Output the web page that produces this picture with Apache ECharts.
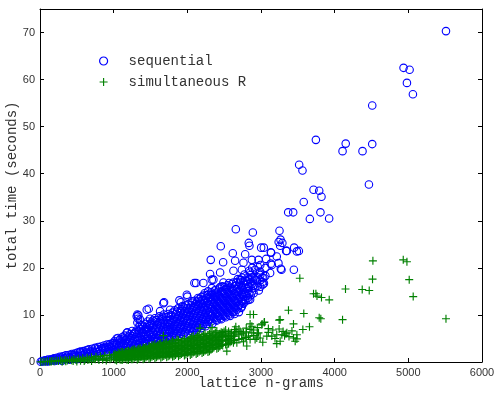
<!DOCTYPE html>
<html>
<head>
<meta charset="utf-8">
<script src="https://cdn.jsdelivr.net/npm/echarts@6/dist/echarts.min.js"></script>
<style>
html,body{margin:0;padding:0;background:#fff;}
#chart{width:496px;height:393px;}
</style>
</head>
<body>
<div id="chart"></div>
<script>
// ---------- data ----------
const xTicks = [0, 1000, 2000, 3000, 4000, 5000, 6000];
const yTicks = [0, 10, 20, 30, 40, 50, 60, 70];
const seriesNames = ['sequential', 'simultaneous R'];

// sequential: [lattice n-grams, total time (seconds)]
const sequential = [
[10,0.05],[30,0.2],[50,0.1],[70,0.35],[90,0.2],[110,0.5],[130,0.3],[150,0.6],[170,0.4],[190,0.8],
[210,0.5],[230,0.9],[250,0.6],[270,1.1],[290,0.7],[310,1.2],[330,0.8],[350,1.4],[370,0.9],[390,1.5],
[410,1.0],[430,1.7],[450,1.1],[470,1.8],[490,1.2],[510,2.0],[530,1.3],[550,2.2],[570,1.4],[590,2.3],
[610,1.6],[630,2.5],[650,1.7],[670,2.7],[690,1.8],[710,2.8],[730,2.0],[750,3.0],[770,2.1],[790,3.2],
[810,2.3],[830,3.3],[850,2.4],[870,3.5],[890,2.5],[910,3.7],[930,2.7],[950,3.8],[970,2.8],[990,4.0],
[100,0.1],[200,0.2],[300,0.3],[400,0.5],[500,0.6],[600,0.8],[700,1.0],[800,1.2],[900,1.4],[1000,1.6],
[540,2.1],[650,2.6],[880,2.9],[960,3.3],
[60,0.25],[120,0.2],[180,0.6],[240,0.4],[260,0.9],[320,0.6],[360,1.1],[420,0.8],[440,1.4],[480,1.5],
[520,1.0],[560,1.8],[620,2.0],[640,1.3],[680,2.2],[720,2.4],[740,1.6],[780,2.7],[820,1.8],[840,2.9],
[860,3.0],[900,3.2],[920,2.1],[940,3.3],[980,3.5],[1000,2.5],[1000,3.6],
[1010,2.0],[1010,3.2],[1010,4.4],[1040,2.4],[1040,3.8],[1040,5.0],[1060,5.1],[1060,1.9],[1060,3.0],
[1090,2.6],[1090,4.1],[1090,4.9],[1120,2.2],[1120,3.5],[1120,5.3],[1150,2.9],[1150,4.5],[1150,5.6],
[1178,6.2],[1186,6.3],[1190,2.4],[1190,3.9],[1190,5.0],[1220,3.0],[1220,4.6],[1220,5.9],
[1250,2.7],[1250,4.0],[1250,5.5],[1250,6.6],[1280,3.3],[1280,4.8],[1280,6.1],
[1313,9.7],[1313,3.0],[1313,5.3],[1322,10.1],[1322,8.4],[1331,9.2],[1335,9.9],
[1340,3.6],[1340,4.6],[1340,6.6],[1340,7.4],[1354,7.9],[1358,9.0],[1370,2.9],[1370,5.6],[1370,6.9],
[1400,3.4],[1400,4.5],[1400,6.2],[1400,7.5],[1430,4.0],[1430,5.3],[1430,7.0],[1430,8.1],
[1449,11.1],[1449,6.9],[1460,3.2],[1460,5.0],[1460,6.4],[1460,8.6],[1476,11.3],[1494,9.2],[1494,7.6],
[1500,3.8],[1500,5.7],[1500,8.0],[1530,4.4],[1530,6.3],[1530,7.3],[1530,8.8],
[1560,3.6],[1560,5.1],[1560,6.8],[1560,9.3],[1590,4.8],[1590,6.0],[1590,7.8],[1590,8.5],
[1620,4.1],[1620,5.6],[1620,7.1],[1620,9.7],[1630,10.8],[1650,4.6],[1650,6.4],[1650,8.2],[1650,9.1],
[1675,12.5],[1684,12.7],[1680,5.0],[1680,7.4],[1680,8.8],[1680,10.1],
[1710,4.4],[1710,6.0],[1710,7.0],[1710,9.5],[1740,5.4],[1740,6.9],[1740,8.3],[1740,10.2],[1766,11.1],
[1770,4.8],[1770,6.3],[1770,7.8],[1770,9.0],[1800,5.8],[1800,7.3],[1800,8.7],[1800,10.5],
[1830,5.2],[1830,6.6],[1830,8.0],[1830,9.6],[1830,11.0],[1860,6.1],[1860,7.5],[1860,9.2],[1860,10.7],
[1892,13.1],[1902,10.8],[1890,5.5],[1890,7.0],[1890,8.5],[1890,9.9],[1911,12.7],
[1920,6.4],[1920,7.9],[1920,9.4],[1920,11.2],[1950,5.8],[1950,7.4],[1950,8.8],[1950,10.3],[1950,11.6],
[1980,6.7],[1980,8.3],[1980,9.8],[1980,12.0],[1993,14.3],[2000,13.9],
[1025,2.6],[1025,3.9],[1075,2.2],[1075,3.5],[1075,4.6],[1105,3.0],[1105,4.4],[1135,2.5],[1135,3.9],[1135,5.0],
[1165,3.3],[1165,4.8],[1205,2.8],[1205,4.2],[1205,5.4],[1235,3.5],[1235,5.0],[1265,3.0],[1265,4.4],[1265,5.9],
[1295,3.8],[1295,5.2],[1295,6.4],[1325,3.3],[1325,4.7],[1325,6.0],[1355,4.1],[1355,5.2],[1355,7.0],
[1385,3.6],[1385,4.9],[1385,6.3],[1385,7.8],[1415,4.3],[1415,5.8],[1415,6.8],[1445,3.8],[1445,5.6],[1445,7.4],
[1475,4.6],[1475,6.0],[1475,7.9],[1515,4.1],[1515,5.3],[1515,6.8],[1515,8.4],[1545,4.9],[1545,6.0],[1545,7.8],
[1575,4.3],[1575,5.8],[1575,7.2],[1575,8.9],[1605,5.1],[1605,6.6],[1605,8.2],[1635,4.4],[1635,5.9],[1635,7.6],[1635,8.8],
[1665,5.3],[1665,6.9],[1665,8.4],[1665,9.6],[1695,4.7],[1695,6.5],[1695,8.0],[1725,5.5],[1725,7.4],[1725,8.9],
[1755,5.0],[1755,6.7],[1755,8.0],[1755,9.7],[1785,5.3],[1785,7.0],[1785,8.4],[1785,10.0],[1815,6.2],[1815,7.7],[1815,9.2],
[1845,5.6],[1845,7.0],[1845,8.6],[1845,10.2],[1875,6.5],[1875,8.1],[1875,9.6],[1875,11.4],[1905,6.0],[1905,7.4],[1905,8.9],[1905,10.4],
[1935,6.9],[1935,8.5],[1935,10.0],[1935,11.9],[1965,6.3],[1965,7.9],[1965,9.3],[1965,10.8],[1995,7.1],[1995,8.8],[1995,10.3],[1995,11.4],
[2010,6.0],[2010,7.6],[2010,9.1],[2010,10.6],[2010,12.2],[2040,7.0],[2040,8.5],[2040,10.0],[2040,11.5],
[2060,12.9],[2070,6.5],[2070,8.0],[2070,9.5],[2070,11.0],[2070,12.6],[2096,16.8],
[2100,7.3],[2100,8.8],[2100,10.4],[2100,11.9],[2100,13.0],[2119,16.8],
[2130,6.8],[2130,8.3],[2130,9.8],[2130,11.3],[2130,12.8],[2160,7.8],[2160,9.3],[2160,10.8],[2160,12.2],[2160,13.4],
[2173,12.9],[2190,7.2],[2190,8.7],[2190,10.2],[2190,11.7],[2190,13.8],[2218,16.8],
[2220,8.1],[2220,9.6],[2220,11.1],[2220,12.6],[2220,14.1],[2250,7.6],[2250,9.0],[2250,10.5],[2250,12.0],[2250,13.5],
[2286,14.3],[2280,8.5],[2280,10.0],[2280,11.4],[2280,12.9],[2280,15.0],[2309,18.7],[2318,21.7],
[2310,9.0],[2310,10.6],[2310,12.1],[2310,13.6],[2332,17.5],[2332,15.7],
[2340,8.2],[2340,9.8],[2340,11.3],[2340,12.8],[2340,14.4],[2354,17.5],[2377,13.9],
[2370,9.3],[2370,10.9],[2370,12.4],[2370,15.2],[2400,8.8],[2400,10.3],[2400,11.8],[2400,13.3],[2400,14.7],
[2430,9.7],[2430,11.2],[2430,12.7],[2430,14.2],[2430,15.6],[2445,19.0],[2454,24.6],
[2460,9.1],[2460,10.6],[2460,12.1],[2460,13.6],[2460,15.0],[2486,21.2],
[2490,16.9],[2490,10.0],[2490,11.6],[2490,13.1],[2490,14.6],
[2520,9.5],[2520,11.0],[2520,12.5],[2520,14.0],[2520,15.5],[2550,10.4],[2550,11.9],[2550,13.4],[2550,14.9],[2550,16.3],
[2580,9.8],[2580,11.3],[2580,12.8],[2580,14.3],[2580,15.8],[2610,10.7],[2610,12.2],[2610,13.7],[2610,15.2],[2610,16.6],
[2617,23.1],[2626,19.4],[2640,10.2],[2640,11.7],[2640,13.2],[2640,14.6],[2640,16.1],[2649,21.5],[2658,28.2],
[2670,11.1],[2670,12.6],[2670,14.1],[2670,15.5],[2670,17.0],[2700,10.6],[2700,12.0],[2700,13.5],[2700,15.0],[2700,16.4],
[2025,6.6],[2025,8.2],[2025,9.7],[2025,11.1],[2055,7.3],[2055,8.9],[2055,10.5],[2055,12.1],[2085,6.9],[2085,8.4],[2085,10.0],[2085,11.6],
[2115,7.7],[2115,9.4],[2115,10.9],[2115,12.3],[2145,7.3],[2145,8.8],[2145,10.3],[2145,11.9],[2145,13.6],
[2175,8.1],[2175,9.8],[2175,11.3],[2175,12.6],[2205,7.7],[2205,9.2],[2205,10.7],[2205,12.3],[2205,13.2],
[2235,8.6],[2235,10.1],[2235,11.6],[2235,13.0],[2235,14.6],[2265,8.1],[2265,9.6],[2265,11.0],[2265,12.6],[2265,14.2],
[2295,9.1],[2295,10.6],[2295,12.2],[2295,13.8],[2325,8.6],[2325,10.1],[2325,11.6],[2325,13.2],[2325,14.8],
[2355,9.5],[2355,11.1],[2355,12.6],[2355,14.1],[2385,9.0],[2385,10.6],[2385,12.0],[2385,13.7],[2385,15.3],
[2415,9.8],[2415,11.4],[2415,12.9],[2415,14.4],[2445,9.3],[2445,10.9],[2445,12.4],[2445,13.9],[2445,15.9],
[2475,10.2],[2475,11.8],[2475,13.3],[2475,14.9],[2475,16.1],[2505,9.8],[2505,11.3],[2505,12.9],[2505,14.4],[2505,15.9],
[2535,10.6],[2535,12.2],[2535,13.7],[2535,15.3],[2565,10.1],[2565,11.6],[2565,13.1],[2565,14.6],[2565,16.8],
[2595,11.0],[2595,12.5],[2595,14.0],[2595,15.6],[2625,10.6],[2625,12.0],[2625,13.6],[2625,15.1],[2625,16.9],
[2655,11.4],[2655,12.9],[2655,14.4],[2655,16.2],[2685,11.8],[2685,13.3],[2685,14.9],[2685,17.6],
[2715,12.2],[2715,13.8],[2715,15.4],[2715,16.9],[2745,12.8],[2745,14.3],[2745,15.8],[2745,17.9],
[2775,13.2],[2775,14.8],[2775,16.4],[2775,18.6],[2805,14.0],[2805,15.5],[2805,17.1],
[2840,14.5],[2840,16.1],[2840,17.6],[2840,19.4],[2880,15.0],[2880,16.6],[2880,18.0],[2880,20.0],
[2920,15.8],[2920,17.5],[2920,19.6],[2955,16.2],[2955,18.0],[2955,20.3],[2990,16.0],[2990,18.5],[2990,20.6],
[3060,18.3],[3060,20.0],
[2717,17.5],[2730,11.5],[2730,13.0],[2730,14.5],[2730,16.0],[2730,17.4],[2740,19.6],[2740,11.8],
[2762,17.1],[2762,21.1],[2760,12.4],[2760,13.9],[2760,15.3],[2785,22.9],
[2790,12.9],[2790,14.4],[2790,15.8],[2790,17.3],[2820,13.6],[2820,15.1],[2820,16.6],[2820,18.0],
[2830,13.2],[2830,15.9],[2834,25.3],[2843,24.7],[2852,19.0],[2852,13.3],[2876,21.7],
[2860,14.2],[2860,16.9],[2860,18.5],[2889,27.5],[2900,14.6],[2900,16.2],[2900,17.9],
[2943,17.3],[2966,21.7],[2970,15.2],[2970,18.8],[2988,19.2],[2988,17.3],[3002,24.3],
[3020,17.0],[3024,16.5],[3020,18.0],[3033,17.8],[3038,24.3],[3040,16.7],[3070,21.9],
[3124,18.9],[3133,23.3],[3133,20.9],[3138,23.2],[3147,20.6],[3214,22.4],[3237,21.0],
[3240,25.5],[3260,24.7],[3265,26.0],[3290,25.3],[3251,27.9],[3278,19.6],[3269,19.8],
[3341,23.6],[3351,23.6],[3369,31.8],[3437,31.8],[3450,24.3],[3446,19.6],[3487,23.5],[3514,23.6],
[3518,41.9],[3563,40.7],[3580,34.0],[3663,30.4],[3713,36.6],[3745,47.2],[3790,36.4],[3807,31.8],
[3821,35.1],[3925,30.5],[4107,44.8],[4150,46.4],[4378,44.8],[4465,37.7],[4510,54.5],[4510,46.3],
[4935,62.5],[4981,59.3],[5017,62.1],[5062,56.9],[5511,70.3]
];

// simultaneous R: [lattice n-grams, total time (seconds)]
const simultaneousR = [
[10,0.02],[40,0.1],[70,0.05],[100,0.15],[130,0.1],[160,0.2],[190,0.15],[220,0.3],[250,0.2],[280,0.35],
[310,0.25],[340,0.45],[370,0.3],[400,0.5],[430,0.35],[460,0.6],[490,0.4],[520,0.7],[550,0.45],[580,0.8],
[610,0.5],[640,0.9],[670,0.6],[700,1.0],[730,0.65],[760,1.1],[790,0.7],[820,1.2],[850,0.8],[880,1.35],
[910,0.85],[940,1.45],[970,0.9],[1000,1.55],[300,0.05],[500,0.1],[700,0.2],[900,0.3],[600,0.2],[800,0.4],
[450,0.2],[650,0.4],[750,0.6],[850,0.5],[950,0.6],[550,0.25],[350,0.15],[150,0.05],
[1020,0.5],[1020,1.1],[1020,1.7],[1060,0.8],[1060,1.4],[1060,2.0],[1100,0.4],[1100,1.0],[1100,1.6],[1100,2.1],
[1140,0.7],[1140,1.3],[1140,1.9],[1180,0.5],[1180,1.2],[1180,1.8],[1180,2.3],[1220,0.9],[1220,1.5],[1220,2.2],
[1260,0.6],[1260,1.3],[1260,2.0],[1260,2.6],[1300,1.0],[1300,1.7],[1300,2.4],[1340,0.7],[1340,1.4],[1340,2.1],[1340,2.8],
[1380,1.1],[1380,1.8],[1380,2.5],[1420,0.8],[1420,1.5],[1420,2.3],[1420,3.0],[1460,1.2],[1460,2.0],[1460,2.7],
[1500,0.9],[1500,1.7],[1500,2.5],[1500,3.2],[1540,1.3],[1540,2.1],[1540,2.9],[1540,3.5],[1580,1.0],[1580,1.8],[1580,2.6],[1580,3.3],
[1620,1.4],[1620,2.2],[1620,3.0],[1620,3.8],[1660,1.1],[1660,1.9],[1660,2.7],[1660,3.5],[1675,5.6],
[1700,1.5],[1700,2.3],[1700,3.1],[1700,4.0],[1740,1.2],[1740,2.0],[1740,2.9],[1740,3.7],
[1780,1.6],[1780,2.5],[1780,3.3],[1780,4.2],[1820,1.3],[1820,2.2],[1820,3.0],[1820,3.9],
[1860,1.8],[1860,2.6],[1860,3.5],[1860,4.8],[1900,1.5],[1900,2.4],[1900,3.2],[1900,4.1],
[1940,1.9],[1940,2.8],[1940,3.6],[1940,4.5],[1980,1.6],[1980,2.5],[1980,3.4],[1980,4.3],
[1040,0.3],[1040,0.9],[1040,1.5],[1080,0.6],[1080,1.2],[1080,1.8],[1120,0.5],[1120,1.1],[1120,1.7],[1120,2.2],
[1160,0.9],[1160,1.5],[1160,2.1],[1200,0.4],[1200,0.8],[1200,1.4],[1200,2.0],[1200,2.4],[1240,0.6],[1240,1.2],[1240,1.8],[1240,2.4],
[1280,0.9],[1280,1.5],[1280,2.2],[1280,2.7],[1320,0.5],[1320,1.2],[1320,1.9],[1320,2.6],[1360,1.0],[1360,1.6],[1360,2.3],[1360,2.9],
[1400,0.6],[1400,1.3],[1400,2.0],[1400,2.7],[1400,3.1],[1440,1.0],[1440,1.7],[1440,2.5],[1440,3.2],
[1480,0.7],[1480,1.4],[1480,2.2],[1480,2.9],[1480,3.4],[1520,1.1],[1520,1.9],[1520,2.7],[1520,3.6],
[1560,0.8],[1560,1.6],[1560,2.4],[1560,3.1],[1560,3.8],[1600,1.2],[1600,2.0],[1600,2.8],[1600,3.6],
[1640,0.9],[1640,1.7],[1640,2.5],[1640,3.3],[1640,4.1],[1680,1.3],[1680,2.1],[1680,2.9],[1680,3.8],
[1720,1.0],[1720,1.8],[1720,2.6],[1720,3.4],[1720,4.3],[1760,1.4],[1760,2.2],[1760,3.1],[1760,3.9],
[1800,1.1],[1800,1.9],[1800,2.7],[1800,3.6],[1800,4.5],[1840,1.5],[1840,2.4],[1840,3.2],[1840,4.1],
[1880,1.2],[1880,2.0],[1880,2.9],[1880,3.8],[1880,4.6],[1920,1.7],[1920,2.6],[1920,3.4],[1920,4.3],
[1960,1.4],[1960,2.2],[1960,3.1],[1960,4.0],[1960,4.9],[2000,1.8],[2000,2.7],[2000,3.6],[2000,4.5],
[2040,1.5],[2040,2.4],[2040,3.3],[2040,4.2],[2040,5.0],[2080,2.0],[2080,2.9],[2080,3.8],[2080,4.7],[2080,5.5],
[2120,1.7],[2120,2.6],[2120,3.5],[2120,4.4],[2120,5.2],[2160,2.2],[2160,3.1],[2160,4.0],[2160,4.9],[2160,5.9],
[2200,1.9],[2200,2.8],[2200,3.7],[2200,4.6],[2200,5.4],[2240,2.4],[2240,3.3],[2240,4.2],[2240,5.1],[2240,6.1],
[2280,2.1],[2280,3.0],[2280,3.9],[2280,4.8],[2280,5.6],[2320,2.6],[2320,3.5],[2320,4.4],[2320,5.3],[2320,6.4],
[2360,3.1],[2360,4.0],[2360,4.9],[2360,5.8],[2400,2.8],[2400,3.7],[2400,4.6],[2400,5.5],[2400,6.6],
[2440,3.3],[2440,4.2],[2440,5.1],[2440,6.0],[2480,3.5],[2480,4.4],[2480,5.3],[2480,6.2],
[2520,3.7],[2520,4.6],[2520,5.5],[2520,6.8],[2560,3.9],[2560,4.8],[2560,5.7],[2560,6.5],
[2600,4.4],[2600,5.3],[2600,6.2],[2640,4.6],[2640,5.5],[2640,6.9],[2700,4.8],[2700,5.8],[2700,7.0],
[2740,5.0],[2740,6.0],[2800,5.2],[2800,6.4],[2800,7.2],[2900,5.6],[2900,6.8],[2950,6.0],[2950,7.3],
[3100,6.3],[3100,7.1],[3160,6.8],[3380,5.4],[3420,6.6],
[2020,2.0],[2020,2.9],[2020,3.8],[2020,4.7],[2060,1.7],[2060,2.6],[2060,3.5],[2060,4.4],[2060,5.3],
[2100,2.2],[2100,3.1],[2100,4.0],[2100,4.9],[2140,1.9],[2140,2.8],[2140,3.7],[2140,4.6],[2140,5.6],[2173,7.2],
[2180,2.4],[2180,3.3],[2180,4.2],[2180,5.1],[2220,2.1],[2220,3.0],[2220,3.9],[2220,4.8],[2220,5.8],
[2260,2.6],[2260,3.5],[2260,4.4],[2260,5.3],[2300,2.3],[2300,3.2],[2300,4.1],[2300,5.0],[2300,6.0],[2336,7.3],
[2340,2.8],[2340,3.7],[2340,4.6],[2340,5.5],[2380,3.4],[2380,4.3],[2380,5.2],[2380,6.2],
[2420,3.0],[2420,3.9],[2420,4.8],[2420,5.7],[2460,3.6],[2460,4.5],[2460,5.4],[2460,6.3],
[2482,5.8],[2499,6.5],[2513,5.5],[2536,2.3],[2540,3.8],[2540,4.7],[2540,5.6],[2580,4.2],[2580,5.0],[2580,6.0],
[2626,5.5],[2626,4.1],[2649,6.2],[2658,7.5],[2672,6.5],[2672,4.1],[2717,6.5],[2762,6.2],[2762,4.3],[2785,5.2],
[2807,3.4],[2830,5.5],[2852,6.9],[2852,4.8],[2852,8.1],[2852,10.1],[2876,6.2],[2876,7.6],[2898,10.1],
[2920,4.8],[2943,5.1],[2966,6.2],[2988,5.1],[3011,7.9],[3015,8.1],[3024,4.2],[3043,8.4],[3047,8.5],
[3079,5.5],[3147,5.5],[3190,5.0],[3214,3.9],[3214,5.8],[3246,8.9],[3246,7.0],[3260,9.0],[3260,4.4],
[3283,5.8],[3300,6.5],[3320,5.6],[3340,6.0],[3351,6.2],[3373,11.0],[3441,8.1],[3441,5.1],[3464,4.4],
[3487,5.8],[3487,4.9],[3527,17.8],[3568,6.9],[3581,10.3],[3658,7.5],[3713,14.5],[3745,14.5],[3760,14.0],
[3790,9.4],[3812,9.2],[3821,13.7],[3926,13.2],[4107,9.0],[4147,15.5],[4374,15.4],[4469,15.2],[4514,17.6],
[4519,21.5],[4931,21.7],[4981,21.3],[5012,17.5],[5066,13.9],[5511,9.2]
];

// ---------- chart ----------
const plusPath = 'path://M3,0h1v3h3v1h-3v3h-1v-3h-3v-1h3z';
const BLUE = '#0000ff';
const GREEN = '#008000';
const TEXT = '#333';
const axisCommon = {
  type: 'value',
  splitLine: { show: false },
  axisLine: { show: true, onZero: false, lineStyle: { color: '#000', width: 1 } },
  axisTick: { show: true, inside: true, length: 4, lineStyle: { color: '#000', width: 1 } }
};
const chart = echarts.init(document.getElementById('chart'), null, { renderer: 'canvas' });
chart.setOption({
  animation: false,
  backgroundColor: '#fff',
  grid: { left: 40, right: 14, top: 9, bottom: 31, containLabel: false, outerBoundsMode: 'none' },
  legend: {
    orient: 'vertical',
    left: 94,
    top: 49,
    itemWidth: 8,
    itemHeight: 8,
    itemGap: 7,
    textStyle: { fontFamily: 'Liberation Mono', fontSize: 14, color: TEXT, padding: [0, 0, 0, 16] },
    data: [
      { name: seriesNames[0], icon: 'circle', itemStyle: { color: 'rgba(0,0,0,0)', borderColor: BLUE, borderWidth: 1.2 } },
      { name: seriesNames[1], icon: plusPath, itemStyle: { color: GREEN, borderWidth: 0 } }
    ]
  },
  xAxis: [
    Object.assign({}, axisCommon, {
      position: 'bottom', min: xTicks[0], max: xTicks[xTicks.length - 1], interval: xTicks[1] - xTicks[0],
      axisLabel: { margin: 5, color: TEXT, fontFamily: 'Liberation Sans', fontSize: 11, formatter: v => String(v) },
      name: 'lattice n-grams', nameLocation: 'middle', nameGap: 14, nameMoveOverlap: false,
      nameTextStyle: { fontFamily: 'Liberation Mono', fontSize: 14, color: TEXT }
    }),
    Object.assign({}, axisCommon, {
      position: 'top', min: xTicks[0], max: xTicks[xTicks.length - 1], interval: xTicks[1] - xTicks[0],
      axisLabel: { show: false }
    })
  ],
  yAxis: [
    Object.assign({}, axisCommon, {
      position: 'left', min: yTicks[0], max: 75, interval: yTicks[1] - yTicks[0],
      axisLabel: { margin: 5, color: TEXT, fontFamily: 'Liberation Sans', fontSize: 11,
        formatter: v => (yTicks.indexOf(v) >= 0 ? String(v) : '') },
      name: 'total time (seconds)', nameLocation: 'middle', nameGap: 21, nameMoveOverlap: false,
      nameTextStyle: { fontFamily: 'Liberation Mono', fontSize: 14, color: TEXT }
    }),
    Object.assign({}, axisCommon, {
      position: 'right', min: yTicks[0], max: 75, interval: yTicks[1] - yTicks[0],
      axisLabel: { show: false }
    })
  ],
  series: [
    {
      name: seriesNames[0], type: 'scatter', xAxisIndex: 0, yAxisIndex: 0,
      symbol: 'circle', symbolSize: 7.5,
      itemStyle: { color: 'rgba(0,0,0,0)', borderColor: BLUE, borderWidth: 1.1, opacity: 1 },
      emphasis: { disabled: true },
      data: sequential
    },
    {
      name: seriesNames[1], type: 'scatter', xAxisIndex: 0, yAxisIndex: 0,
      symbol: plusPath, symbolSize: 8,
      itemStyle: { color: GREEN, opacity: 1 },
      emphasis: { disabled: true },
      data: simultaneousR
    }
  ]
});
</script>
</body>
</html>
